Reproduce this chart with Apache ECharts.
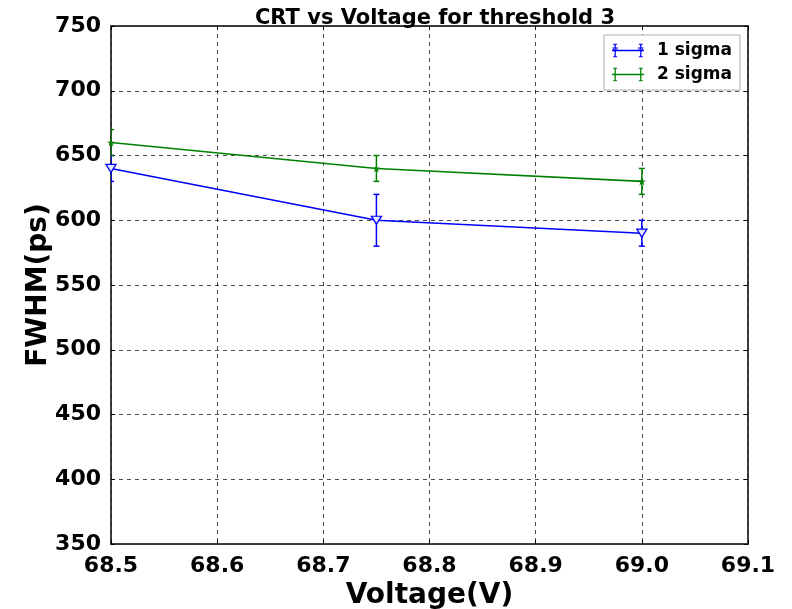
<!DOCTYPE html>
<html>
<head>
<meta charset="utf-8">
<script src="https://cdn.jsdelivr.net/npm/echarts@6/dist/echarts.min.js"></script>
<style>
html,body{margin:0;padding:0;background:#fff;}
#chart{width:792px;height:609px;}
</style>
</head>
<body>
<div id="chart"></div>
<script>
const voltages = [68.5, 68.75, 69.0];
const sigma1 = [640, 600, 590];
const sigma1Err = [10, 20, 10];
const sigma2 = [660, 640, 630];
const sigma2Err = [10, 10, 10];
const seriesNames = ['1 sigma', '2 sigma'];
const xTicks = [68.5, 68.6, 68.7, 68.8, 68.9, 69.0, 69.1];
const yTicks = [350, 400, 450, 500, 550, 600, 650, 700, 750];

const FONT = 'DejaVu Sans';
const BLUE = '#0000ff';
const GREEN = '#008000';

const triDown = 'path://M0,0 L10,0 L5,9 Z';
const star = 'path://M50,0 L61,35 L98,35 L68,57 L79,91 L50,70 L21,91 L32,57 L2,35 L39,35 Z';

const iconBase = 'M0,9.2 H40 V10.8 H0 Z M3.2,2 H4.8 V18 H3.2 Z M35.2,2 H36.8 V18 H35.2 Z M1.5,1.5 H6.5 V2.8 H1.5 Z M1.5,17.2 H6.5 V18.5 H1.5 Z M33.5,1.5 H38.5 V2.8 H33.5 Z M33.5,17.2 H38.5 V18.5 H33.5 Z';
const icon1 = 'path://' + iconBase +
  ' M0.3,6.3 L7.7,6.3 L4,13.3 Z M1.9,7.3 L4,11.3 L6.1,7.3 Z' +
  ' M32.3,6.3 L39.7,6.3 L36,13.3 Z M33.9,7.3 L36,11.3 L38.1,7.3 Z';
const icon2 = 'path://' + iconBase + ' M4,7 L5,9 L7,10 L5,11 L4,13 L3,11 L1,10 L3,9 Z M36,7 L37,9 L39,10 L37,11 L36,13 L35,11 L33,10 L35,9 Z';

function pairs(xs, ys) { return xs.map((x, i) => [x, ys[i]]); }
function errData(xs, ys, es) { return xs.map((x, i) => [x, ys[i] - es[i], ys[i] + es[i]]); }

function errRender(color) {
  return function (params, api) {
    const lo = api.coord([api.value(0), api.value(1)]);
    const hi = api.coord([api.value(0), api.value(2)]);
    const cap = 3;
    const st = { stroke: color, lineWidth: 1.5 };
    return {
      type: 'group',
      children: [
        { type: 'line', shape: { x1: lo[0], y1: lo[1], x2: hi[0], y2: hi[1] }, style: st },
        { type: 'line', shape: { x1: lo[0] - cap, y1: lo[1], x2: lo[0] + cap, y2: lo[1] }, style: st },
        { type: 'line', shape: { x1: hi[0] - cap, y1: hi[1], x2: hi[0] + cap, y2: hi[1] }, style: st }
      ]
    };
  };
}

const chart = echarts.init(document.getElementById('chart'), null, { renderer: 'canvas' });

const axisCommon = {
  axisLine: { show: true, lineStyle: { color: '#333', width: 1.5 } },
  axisTick: { show: true, inside: true, length: 4, lineStyle: { color: '#000' } },
};
const gridLine = { show: true, lineStyle: { color: '#000', type: [4, 4], width: 1, opacity: 0.7 } };

chart.setOption({
  animation: false,
  backgroundColor: '#fff',
  title: {
    text: 'CRT vs Voltage for threshold 3',
    left: 430,
    textAlign: 'center',
    top: 3,
    textStyle: { fontFamily: FONT, fontWeight: 'bold', fontSize: 21, color: '#000' }
  },
  grid: {
    left: 111, right: 44, top: 26, bottom: 65,
    containLabel: false, outerBoundsMode: 'none',
    show: true, borderColor: '#333', borderWidth: 1.5, backgroundColor: 'transparent'
  },
  legend: {
    right: 52, top: 35,
    orient: 'vertical',
    padding: [7, 8, 7, 8],
    itemGap: 7,
    itemWidth: 32, itemHeight: 16,
    backgroundColor: '#fff',
    borderColor: '#b0b0b0', borderWidth: 1, borderRadius: 0,
    textStyle: { fontFamily: FONT, fontWeight: 'bold', fontSize: 17, color: '#000', padding: [0, 0, 0, 8] },
    data: [
      { name: seriesNames[0], icon: icon1, itemStyle: { color: BLUE, borderWidth: 0 }, lineStyle: { width: 0 } },
      { name: seriesNames[1], icon: icon2, itemStyle: { color: GREEN, borderWidth: 0 }, lineStyle: { width: 0 } }
    ]
  },
  xAxis: [{
    type: 'value', min: xTicks[0], max: xTicks[xTicks.length - 1], interval: 0.1,
    position: 'bottom',
    ...axisCommon,
    axisLabel: { fontFamily: FONT, fontWeight: 'bold', fontSize: 22, color: '#000', margin: 11, formatter: v => v.toFixed(1) },
    splitLine: gridLine,
    name: 'Voltage(V)', nameLocation: 'middle', nameGap: 38, nameMoveOverlap: false,
    nameTextStyle: { fontFamily: FONT, fontWeight: 'bold', fontSize: 28, color: '#000' }
  }, {
    type: 'value', min: xTicks[0], max: xTicks[xTicks.length - 1], interval: 0.1,
    position: 'top', ...axisCommon,
    axisLabel: { show: false }, splitLine: { show: false }
  }],
  yAxis: [{
    type: 'value', min: yTicks[0], max: yTicks[yTicks.length - 1], interval: 50,
    position: 'left',
    ...axisCommon,
    axisLabel: { fontFamily: FONT, fontWeight: 'bold', fontSize: 22, color: '#000', margin: 10 },
    splitLine: gridLine,
    name: 'FWHM(ps)', nameLocation: 'middle', nameGap: 58, nameRotate: 90, nameMoveOverlap: false,
    nameTextStyle: { fontFamily: FONT, fontWeight: 'bold', fontSize: 28, color: '#000' }
  }, {
    type: 'value', min: yTicks[0], max: yTicks[yTicks.length - 1], interval: 50,
    position: 'right', ...axisCommon,
    axisLabel: { show: false }, splitLine: { show: false }
  }],
  series: [
    {
      name: seriesNames[0], type: 'line', data: pairs(voltages, sigma1),
      lineStyle: { color: BLUE, width: 1.6 }, itemStyle: { color: '#e8e8ff', borderColor: BLUE, borderWidth: 1.3 },
      symbol: triDown, symbolSize: [10, 8], showAllSymbol: true, z: 3, clip: true
    },
    {
      name: seriesNames[1], type: 'line', data: pairs(voltages, sigma2),
      lineStyle: { color: GREEN, width: 1.6 }, itemStyle: { color: GREEN },
      symbol: star, symbolSize: 8, showAllSymbol: true, z: 3, clip: true
    },
    {
      name: seriesNames[0], type: 'custom', data: errData(voltages, sigma1, sigma1Err),
      renderItem: errRender(BLUE), encode: { x: 0, y: [1, 2] }, z: 2, clip: true
    },
    {
      name: seriesNames[1], type: 'custom', data: errData(voltages, sigma2, sigma2Err),
      renderItem: errRender(GREEN), encode: { x: 0, y: [1, 2] }, z: 2, clip: true
    }
  ]
});
</script>
</body>
</html>
